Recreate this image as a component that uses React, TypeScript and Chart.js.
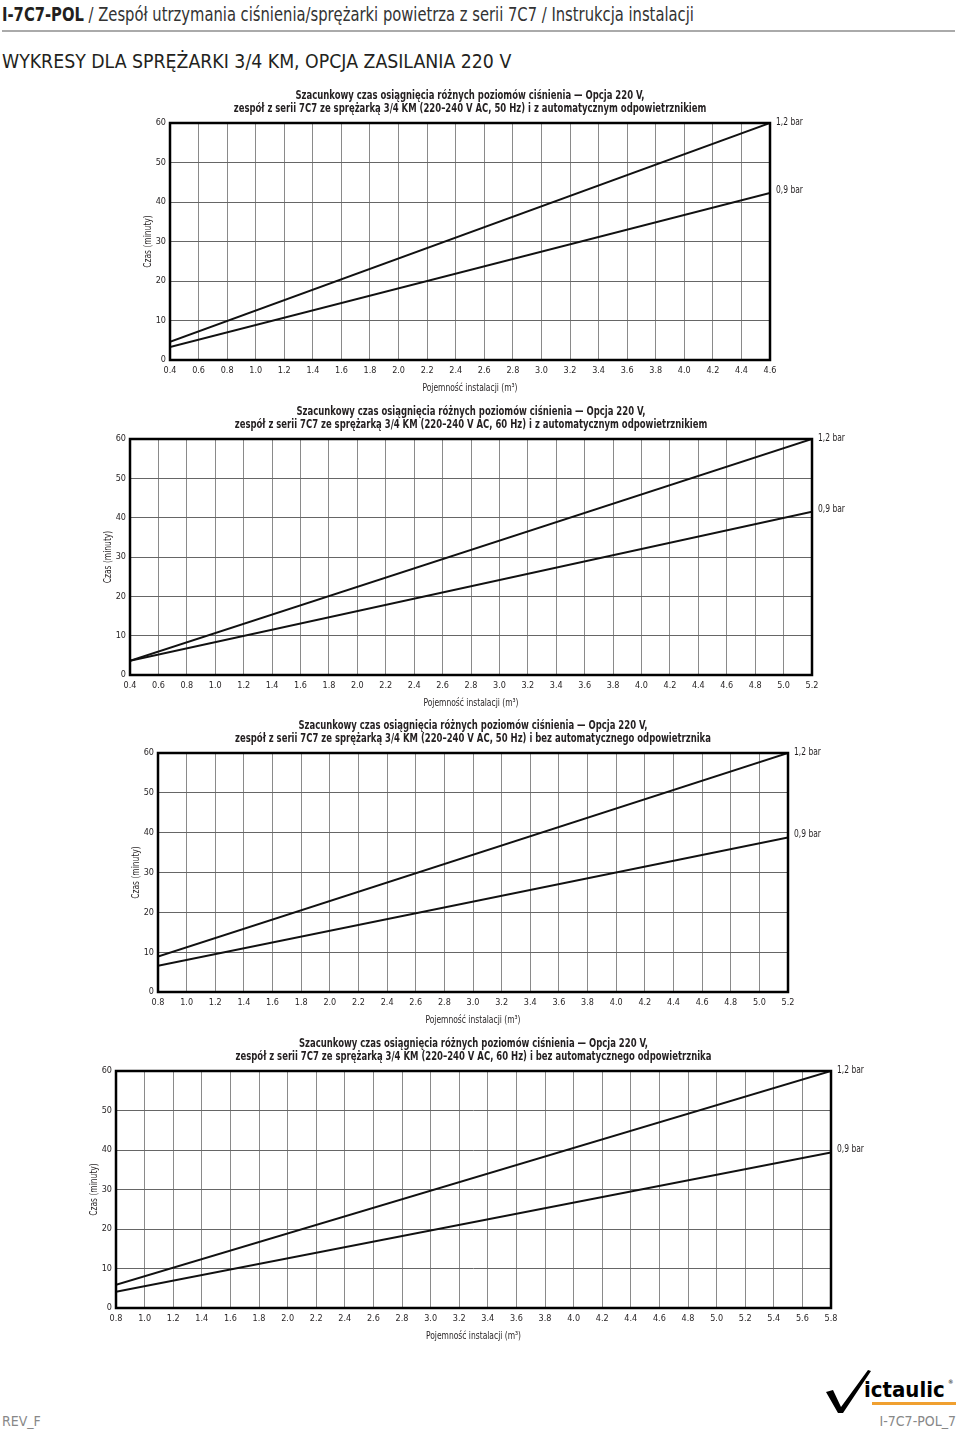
import React, { useEffect, useRef } from "react";
import { Chart, registerables } from "chart.js";

Chart.register(...registerables);

const FONT = '"DejaVu Sans Condensed", "DejaVu Sans", sans-serif';
const INK = "#231f20";
const SX = 0.8; // horizontal condensing for canvas text

// ---------- data ----------
const seriesLabels = ["1,2 bar", "0,9 bar"];
const yRange = [0, 60];
const yStep = 10;
const xStep = 0.2;

const c1Range = [0.4, 4.6];
const c1Capacity = [0.4, 4.6];
const c1Bar12 = [4.6, 60];
const c1Bar09 = [3.3, 42.3];

const c2Range = [0.4, 5.2];
const c2Capacity = [0.4, 5.2];
const c2Bar12 = [3.6, 60];
const c2Bar09 = [3.6, 41.5];

const c3Range = [0.8, 5.2];
const c3Capacity = [0.8, 5.2];
const c3Bar12 = [8.9, 60];
const c3Bar09 = [6.6, 38.8];

const c4Range = [0.8, 5.8];
const c4Capacity = [0.8, 5.8];
const c4Bar12 = [5.9, 60];
const c4Bar09 = [4.1, 39.4];

const title1 = [
  "Szacunkowy czas osiągnięcia różnych poziomów ciśnienia — Opcja 220 V,",
  "zespół z serii 7C7 ze sprężarką 3/4 KM (220–240 V AC, 50 Hz) i z automatycznym odpowietrznikiem",
];
const title2 = [
  "Szacunkowy czas osiągnięcia różnych poziomów ciśnienia — Opcja 220 V,",
  "zespół z serii 7C7 ze sprężarką 3/4 KM (220–240 V AC, 60 Hz) i z automatycznym odpowietrznikiem",
];
const title3 = [
  "Szacunkowy czas osiągnięcia różnych poziomów ciśnienia — Opcja 220 V,",
  "zespół z serii 7C7 ze sprężarką 3/4 KM (220–240 V AC, 50 Hz) i bez automatycznego odpowietrznika",
];
const title4 = [
  "Szacunkowy czas osiągnięcia różnych poziomów ciśnienia — Opcja 220 V,",
  "zespół z serii 7C7 ze sprężarką 3/4 KM (220–240 V AC, 60 Hz) i bez automatycznego odpowietrznika",
];
const xTitle = "Pojemność instalacji (m³)";
const yTitle = "Czas (minuty)";

// ---------- layout (plot rectangles in page px) ----------
const L = 40, T = 44, R = 70, B = 40;
const panels = [
  { plot: [170, 123, 770, 360], range: c1Range, xs: c1Capacity, s12: c1Bar12, s09: c1Bar09, title: title1 },
  { plot: [130, 439, 812, 675], range: c2Range, xs: c2Capacity, s12: c2Bar12, s09: c2Bar09, title: title2 },
  { plot: [158, 753, 788, 992], range: c3Range, xs: c3Capacity, s12: c3Bar12, s09: c3Bar09, title: title3 },
  { plot: [116, 1071, 831, 1308], range: c4Range, xs: c4Capacity, s12: c4Bar12, s09: c4Bar09, title: title4 },
];

function condensed(ctx: any, text: string, x: number, y: number, sx: number, rot = 0) {
  ctx.save();
  ctx.translate(x, y);
  if (rot) ctx.rotate(rot);
  ctx.scale(sx, 1);
  ctx.fillText(text, 0, 0);
  ctx.restore();
}

const decorPlugin = {
  id: "decor",
  afterDraw(chart: any, _args: any, opts: any) {
    const { ctx, chartArea } = chart;
    const { left, top, right, bottom } = chartArea;
    ctx.save();
    // frame
    ctx.strokeStyle = "#000";
    ctx.lineWidth = 2.5;
    ctx.strokeRect(left, top, right - left, bottom - top);
    ctx.fillStyle = INK;
    ctx.textBaseline = "middle";
    const cx = (left + right) / 2;
    const cy = (top + bottom) / 2;
    // title
    ctx.textAlign = "center";
    ctx.font = `bold 12px ${FONT}`;
    const lines: string[] = opts.title || [];
    lines.forEach((t, i) => {
      condensed(ctx, t, cx, top - 14.5 - (lines.length - 1 - i) * 12.5, 0.785);
    });
    // axis titles
    ctx.font = `10.5px ${FONT}`;
    condensed(ctx, xTitle, cx, bottom + 28, SX);
    condensed(ctx, yTitle, left - 22, cy, SX, -Math.PI / 2);
    // series end labels
    ctx.textAlign = "left";
    chart.data.datasets.forEach((ds: any, i: number) => {
      const meta = chart.getDatasetMeta(i);
      const pt = meta.data[meta.data.length - 1];
      if (!pt) return;
      condensed(ctx, ds.label, right + 6, pt.y - (i === 0 ? 1 : 3), SX);
    });
    ctx.restore();
  },
};

function Panel({ p }: { p: any }) {
  const ref = useRef<HTMLCanvasElement | null>(null);
  const [pl, pt, pr, pb] = p.plot;
  const w = L + (pr - pl) + R;
  const h = T + (pb - pt) + B;
  useEffect(() => {
    if (!ref.current) return;
    const mk = (xs: number[], ys: number[]) => xs.map((x, i) => ({ x, y: ys[i] }));
    const chart = new Chart(ref.current, {
      type: "scatter",
      data: {
        datasets: [
          { label: seriesLabels[0], data: mk(p.xs, p.s12), showLine: true, borderColor: "#111", borderWidth: 2, pointRadius: 0 },
          { label: seriesLabels[1], data: mk(p.xs, p.s09), showLine: true, borderColor: "#111", borderWidth: 2, pointRadius: 0 },
        ],
      },
      options: {
        responsive: false,
        animation: false,
        layout: { padding: { top: T, right: R, left: 0, bottom: 0 } },
        plugins: {
          legend: { display: false },
          tooltip: { enabled: false },
          title: { display: false },
          decor: { title: p.title },
        } as any,
        scales: {
          x: {
            type: "linear",
            min: p.range[0],
            max: p.range[1],
            ticks: {
              stepSize: xStep,
              autoSkip: false,
              maxRotation: 0,
              padding: 5,
              color: INK,
              font: { family: FONT, size: 9 },
              callback: (v: any) => Number(v).toFixed(1),
            },
            grid: { color: "#8a8a8a", lineWidth: 1, drawTicks: false },
            border: { display: false },
            afterFit: (s: any) => { s.height = B; },
          },
          y: {
            type: "linear",
            min: yRange[0],
            max: yRange[1],
            ticks: { stepSize: yStep, padding: 4, color: INK, font: { family: FONT, size: 9 } },
            grid: { color: "#666", lineWidth: 1, drawTicks: false },
            border: { display: false },
            afterFit: (s: any) => { s.width = L; },
          },
        },
      } as any,
      plugins: [decorPlugin],
    });
    return () => chart.destroy();
  }, []);
  return (
    <canvas
      ref={ref}
      width={w}
      height={h}
      style={{ position: "absolute", left: pl - L, top: pt - T, width: w, height: h }}
    />
  );
}

function Logo() {
  return (
    <svg style={{ position: "absolute", left: 824, top: 1368, width: 136, height: 46 }} viewBox="0 0 136 46">
      <path d="M2 24 L9 22 L17 39 L44 2 L47 3 L19 45 L14 45 Z" fill="#000" />
      <text x="40" y="29" fontFamily={FONT} fontWeight="bold" fontSize="22" fill="#000">ictaulic</text>
      <text x="124" y="16" fontFamily={FONT} fontSize="6" fill="#000">®</text>
      <rect x="48" y="34" width="84" height="3" fill="#f0a030" />
    </svg>
  );
}

export default function App() {
  return (
    <div style={{ position: "absolute", left: 0, top: 0, width: 960, height: 1431, background: "#fff", overflow: "hidden", fontFamily: FONT, color: INK }}>
      <div style={{ position: "absolute", left: 2, top: 3, fontSize: 20, whiteSpace: "nowrap", lineHeight: "22px", transform: "scaleX(0.82)", transformOrigin: "0 0" }}>
        <span style={{ fontWeight: "bold" }}>I-7C7-POL</span>
        <span style={{ color: "#333" }}> / Zespół utrzymania ciśnienia/sprężarki powietrza z serii 7C7 / Instrukcja instalacji</span>
      </div>
      <div style={{ position: "absolute", left: 2, top: 30, width: 953, height: 0, borderTop: "2px solid #aaa" }} />
      <div style={{ position: "absolute", left: 2, top: 51, fontSize: 19.3, whiteSpace: "nowrap", lineHeight: "22px" }}>
        WYKRESY DLA SPRĘŻARKI 3/4 KM, OPCJA ZASILANIA 220 V
      </div>
      {panels.map((p, i) => (
        <Panel key={i} p={p} />
      ))}
      <Logo />
      <div style={{ position: "absolute", left: 2, top: 1413, fontSize: 14, color: "#888", lineHeight: "16px" }}>REV_F</div>
      <div style={{ position: "absolute", right: 4, top: 1413, fontSize: 14, color: "#888", lineHeight: "16px" }}>I-7C7-POL_7</div>
    </div>
  );
}
